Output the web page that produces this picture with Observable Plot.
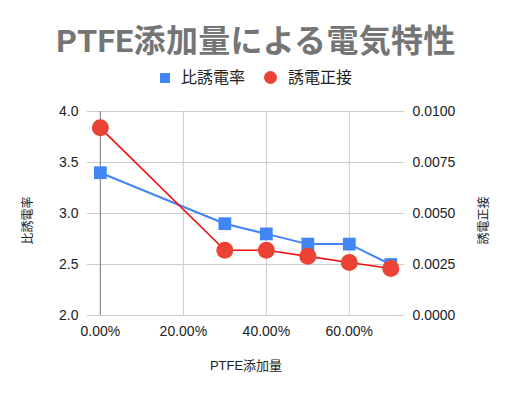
<!DOCTYPE html>
<html>
<head>
<meta charset="utf-8">
<script src="https://cdn.jsdelivr.net/npm/d3@7"></script>
<script src="https://cdn.jsdelivr.net/npm/@observablehq/plot@0.6"></script>
<style>
  html, body { margin: 0; padding: 0; background: #fff; }
  #wrap { position: relative; width: 512px; height: 393px; overflow: hidden; font-family: Arimo, "Liberation Sans", Arial, "Noto Sans CJK JP", sans-serif; }
  #title { position: absolute; left: 0; width: 512px; top: 15px; text-align: center; font-size: 32px; font-weight: bold; color: #757575; font-family: Roboto, "Liberation Sans", "Noto Sans CJK JP", sans-serif; white-space: nowrap; letter-spacing: 0.3px; }
  #legend { position: absolute; left: 0; width: 512px; top: 67px; height: 22px; font-size: 16px; color: #222; }
  .li { position: absolute; top: 0; line-height: 22px; white-space: nowrap; }
  .sw { display: inline-block; vertical-align: middle; }
  #chart { position: absolute; left: 0; top: 0; }
</style>
</head>
<body>
<div id="wrap">
  <div id="chart"></div>
  <div id="title"></div>
  <div id="legend"></div>
</div>
<script>
const titleText = "PTFE添加量による電気特性";
const seriesNames = ["比誘電率", "誘電正接"];
const xLabel = "PTFE添加量";
const additions = [0, 0.3, 0.4, 0.5, 0.6, 0.7];
const permittivity = [3.4, 2.9, 2.8, 2.7, 2.7, 2.5];
const lossTangent = [0.0092, 0.0032, 0.0032, 0.0029, 0.0026, 0.0023];
const xTicks = [0, 0.2, 0.4, 0.6];
const leftTicks = [2.0, 2.5, 3.0, 3.5, 4.0];
const rightTicks = [0, 0.0025, 0.005, 0.0075, 0.01];

const blue = "#4285f4";
const redLine = "#f01010";
const redDot = "#ea4335";

// map right-axis values onto the left y scale
const toLeft = v => 2 + v * 200;

const rowsA = additions.map((x, i) => ({x, y: permittivity[i]}));
const rowsB = additions.map((x, i) => ({x, y: toLeft(lossTangent[i])}));

document.getElementById("title").textContent = titleText;
const legend = document.getElementById("legend");
legend.innerHTML =
  `<div class="li" style="left:160px"><span class="sw" style="width:10px;height:10px;background:${blue};margin-right:11px;position:relative;top:-1px"></span>${seriesNames[0]}</div>` +
  `<div class="li" style="left:264px"><span class="sw" style="width:13px;height:13px;border-radius:50%;background:${redDot};margin-right:11px;position:relative;top:-1px"></span>${seriesNames[1]}</div>`;

const chart = Plot.plot({
  width: 512,
  height: 393,
  marginLeft: 87,
  marginRight: 108,
  marginTop: 111,
  marginBottom: 78,
  style: {fontFamily: "Arimo, 'Liberation Sans', Arial, 'Noto Sans CJK JP', sans-serif", fontSize: "14px", color: "#222", background: "transparent"},
  x: {domain: [-0.031, 0.733], axis: null},
  y: {domain: [2, 4], axis: null},
  marks: [
    Plot.gridY(leftTicks, {stroke: "#cccccc", strokeOpacity: 1}),
    Plot.gridX(xTicks.filter(d => d !== 0), {stroke: "#cccccc", strokeOpacity: 1}),
    Plot.ruleX([0], {stroke: "#8a8a8a", strokeWidth: 1.2}),
    Plot.axisY(leftTicks, {anchor: "left", tickSize: 0, tickPadding: 9, tickFormat: d => d.toFixed(1), label: null, fontSize: 14}),
    Plot.axisY(rightTicks.map(toLeft), {anchor: "right", tickSize: 0, tickPadding: 8, tickFormat: d => ((d - 2) / 200).toFixed(4), label: null, fontSize: 14}),
    Plot.axisX(xTicks, {anchor: "bottom", tickSize: 0, tickPadding: 11, tickFormat: d3.format(".2%"), label: null, fontSize: 14}),
    Plot.text([seriesNames[0]], {frameAnchor: "left", textAnchor: "middle", dx: -59, dy: 7, rotate: -90, fontSize: 12, fill: "#222"}),
    Plot.text([seriesNames[1]], {frameAnchor: "right", textAnchor: "middle", dx: 80, dy: 7, rotate: -90, fontSize: 12, fill: "#222"}),
    Plot.text([xLabel], {frameAnchor: "bottom", dy: 54, fontSize: 13, fill: "#222"}),
    Plot.line(rowsA, {x: "x", y: "y", stroke: blue, strokeWidth: 2}),
    Plot.line(rowsB, {x: "x", y: "y", stroke: redLine, strokeWidth: 1.6}),
    Plot.dot(rowsA, {x: "x", y: "y", symbol: "square", r: 7.2, fill: blue, stroke: "none"}),
    Plot.dot(rowsB, {x: "x", y: "y", r: 8.5, fill: redDot, stroke: "none"})
  ]
});
document.getElementById("chart").appendChild(chart);
</script>
</body>
</html>
